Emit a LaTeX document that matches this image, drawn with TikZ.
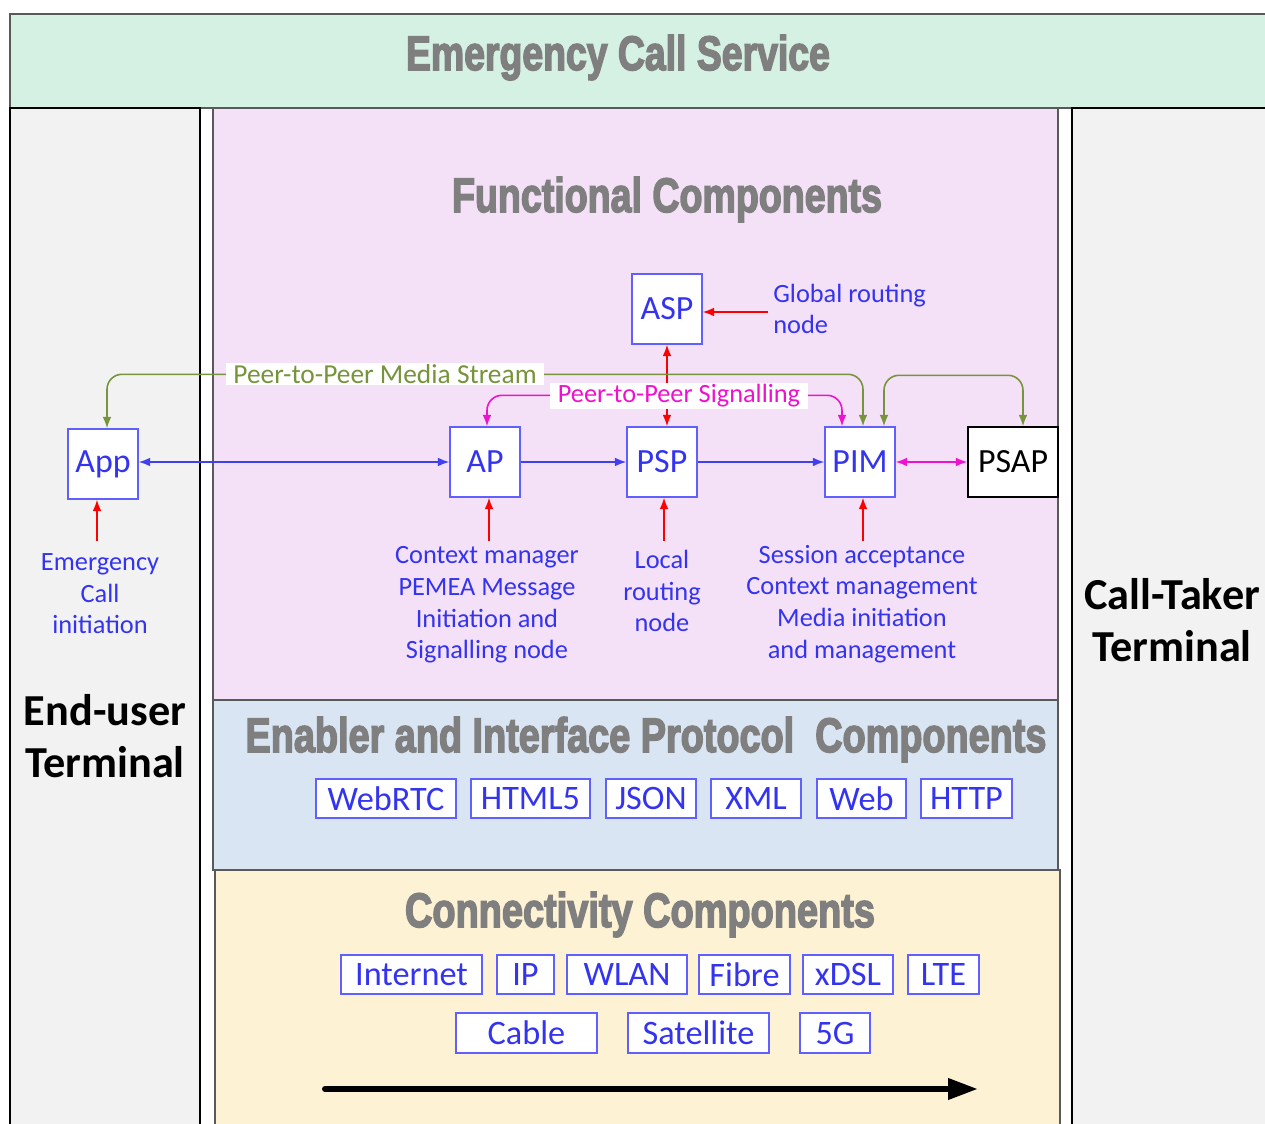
\documentclass[tikz,border=0pt]{standalone}
\usepackage{graphicx}
\usepackage{fontspec}
\setmainfont{Carlito}
\newfontfamily\headfont{Liberation Sans}[FakeBold=3.5]
\usetikzlibrary{arrows.meta,calc}

\definecolor{bandgreen}{HTML}{D5F1E3}
\definecolor{panelgray}{HTML}{F2F2F2}
\definecolor{purp}{HTML}{F5E1F7}
\definecolor{bluep}{HTML}{DAE5F3}
\definecolor{yellowp}{HTML}{FEF2D5}
\definecolor{headgray}{HTML}{7F7F7F}
\definecolor{txtblue}{HTML}{3333F0}
\definecolor{nodeblue}{HTML}{6060FF}
\definecolor{arrowblue}{HTML}{4040F0}
\definecolor{olivegreen}{HTML}{77933C}
\definecolor{magent}{HTML}{F010D0}
\definecolor{bordergray}{HTML}{595959}

\tikzset{
  box/.style={draw=nodeblue, line width=0.8pt, fill=white, text=txtblue,
    font=\fontsize{19.3}{22}\selectfont, minimum width=1.4cm, minimum height=1.4cm, inner sep=0pt},
  tag/.style={draw=nodeblue, line width=0.7pt, fill=white, text=txtblue,
    font=\fontsize{19.5}{22}\selectfont, minimum height=0.78cm, inner sep=0pt},
  desc/.style={text=txtblue, font=\fontsize{15}{18}\selectfont, align=center, inner sep=0pt},
  heading/.style={text=headgray, anchor=base, inner sep=0pt},
  term/.style={font=\bfseries\fontsize{25.2}{30}\selectfont, align=center, inner sep=0pt},
  wire/.style={line width=0.9pt},
  bl/.style={wire, draw=arrowblue},
  rd/.style={wire, draw=red},
  gr/.style={wire, draw=olivegreen, rounded corners=0.3cm},
  mg/.style={wire, draw=magent, rounded corners=0.3cm},
  panel/.style={line width=0.8pt, draw=bordergray},
  onlabel/.style={fill=white, inner xsep=4.5pt, inner ysep=1pt},
}

\begin{document}
\begin{tikzpicture}[x=0.02cm, y=-0.02cm, >={Latex[length=6.5pt,width=5pt]}]
\useasboundingbox (0,0) rectangle (1265,1124);

% background panels
\filldraw[fill=bandgreen, draw=gray!70!black, line width=1pt] (10,14) rectangle (1300,108);
\filldraw[fill=panelgray, draw=black, line width=1.2pt] (10,108) rectangle (200,1150);
\filldraw[fill=panelgray, draw=black, line width=1.2pt] (1072,108) rectangle (1300,1150);
\filldraw[panel, fill=purp] (213,108) rectangle (1058,700);
\filldraw[panel, fill=bluep] (213,700) rectangle (1058,870);
\filldraw[panel, fill=yellowp] (215,870) rectangle (1060,1150);

% headings
\node[heading] (hecs) at (618,70) {\resizebox{8.48cm}{0.70cm}{\headfont\bfseries Emergency Call Service}};
\node[heading] (hfunc) at (667,212) {\resizebox{8.6cm}{0.70cm}{\headfont\bfseries Functional Components}};
\node[heading] (henab) at (646,752) {\resizebox{16.02cm}{0.70cm}{\headfont\bfseries Enabler and Interface Protocol~~Components}};
\node[heading] (hconn) at (640,927) {\resizebox{9.4cm}{0.70cm}{\headfont\bfseries Connectivity Components}};

% terminals
\node[term] (eut) at (105,736) {End-user\\Terminal};
\node[term] (ctt) at (1172,620) {Call-Taker\\Terminal};

% functional nodes
\node[box] (asp) at (667,309) {ASP};
\node[box] (app) at (103,464) {App};
\node[box] (ap) at (485,462) {AP};
\node[box] (psp) at (662,462) {PSP};
\node[box] (pim) at (860,462) {PIM};
\node[box, draw=black, text=black, minimum width=1.8cm] (psap) at (1013,462) {PSAP};

% descriptions
\node[desc, align=left, anchor=west] (aspd) at (773,309) {Global routing\\node};
\node[desc] (appd) at (100,594) {Emergency\\Call\\initiation};
\node[desc] (apd) at (487,605) {Context manager\\PEMEA Message\\Initiation and\\Signalling node};
\node[desc] (pspd) at (662,591) {Local\\routing\\node};
\node[desc] (pimd) at (862,604) {Session acceptance\\Context management\\Media initiation\\and management};

% main message flow
\draw[bl, <->] (app.east |- ap.west) -- (ap.west);
\draw[bl, ->] (ap.east) -- (psp.west);
\draw[bl, ->] (psp.east) -- (pim.west);
\draw[wire, draw=magent, <->] (pim.east) -- (psap.west);

% routing and inputs
\draw[rd, <->] (asp.south) -- (asp.south |- psp.north);
\draw[rd, ->] ($(asp.east)+(65,3)$) -- ($(asp.east)+(0,3)$);
\draw[rd, ->] ($(app.south)+(-6,41)$) -- ($(app.south)+(-6,0)$);
\draw[rd, ->] ($(ap.south)+(4,43)$) -- ($(ap.south)+(4,0)$);
\draw[rd, ->] ($(psp.south)+(2,43)$) -- ($(psp.south)+(2,0)$);
\draw[rd, ->] ($(pim.south)+(3,43)$) -- ($(pim.south)+(3,0)$);

% peer-to-peer media stream
\draw[gr, <->] ($(app.north)+(4,0)$) -- ++(0,-54) -| ($(pim.north)+(3,0)$);
\draw[gr, <->] ($(pim.north)+(24,0)$) -- ++(0,-51) -| ($(psap.north)+(10,0)$);
\node[onlabel, text=olivegreen, font=\fontsize{15.6}{18}\selectfont] (pms) at (385,374) {Peer-to-Peer Media Stream};

% peer-to-peer signalling
\draw[mg, <->] ($(ap.north)+(2,0)$) -- ++(0,-31) -| ($(pim.north)+(-18,0)$);
\node[onlabel, text=magent, font=\fontsize{15}{18}\selectfont] (pps) at (679,396) {Peer-to-Peer Signalling};

% enabler and interface protocols
\node[tag, minimum width=2.8cm] (webrtc) at (386,798.5) {WebRTC};
\node[tag, minimum width=2.38cm] (html) at (530.5,798.5) {HTML5};
\node[tag, minimum width=1.8cm] (json) at (651,798.5) {JSON};
\node[tag, minimum width=1.8cm] (xml) at (756,798.5) {XML};
\node[tag, minimum width=1.78cm] (web) at (861.5,798.5) {Web};
\node[tag, minimum width=1.82cm] (http) at (966.5,798.5) {HTTP};

% connectivity
\node[tag, minimum width=2.82cm] (inet) at (411.5,974.5) {Internet};
\node[tag, minimum width=1.14cm] (ip) at (525.5,974.5) {IP};
\node[tag, minimum width=2.4cm] (wlan) at (627,974.5) {WLAN};
\node[tag, minimum width=1.82cm] (fibre) at (744.5,974.5) {Fibre};
\node[tag, minimum width=1.8cm] (xdsl) at (848,974.5) {xDSL};
\node[tag, minimum width=1.42cm] (lte) at (943.5,974.5) {LTE};
\node[tag, minimum width=2.82cm, minimum height=0.8cm] (cable) at (526.5,1033) {Cable};
\node[tag, minimum width=2.82cm, minimum height=0.8cm] (sat) at (698.5,1033) {Satellite};
\node[tag, minimum width=1.4cm, minimum height=0.8cm] (fiveg) at (835,1033) {5G};

% evolution arrow
\coordinate (flowstart) at (325,1089);
\coordinate (flowend) at (978,1089);
\draw[line width=3.4pt, line cap=round, -{Triangle[length=17pt,width=11.5pt]}] (flowstart) -- (flowend);
\end{tikzpicture}
\end{document}
